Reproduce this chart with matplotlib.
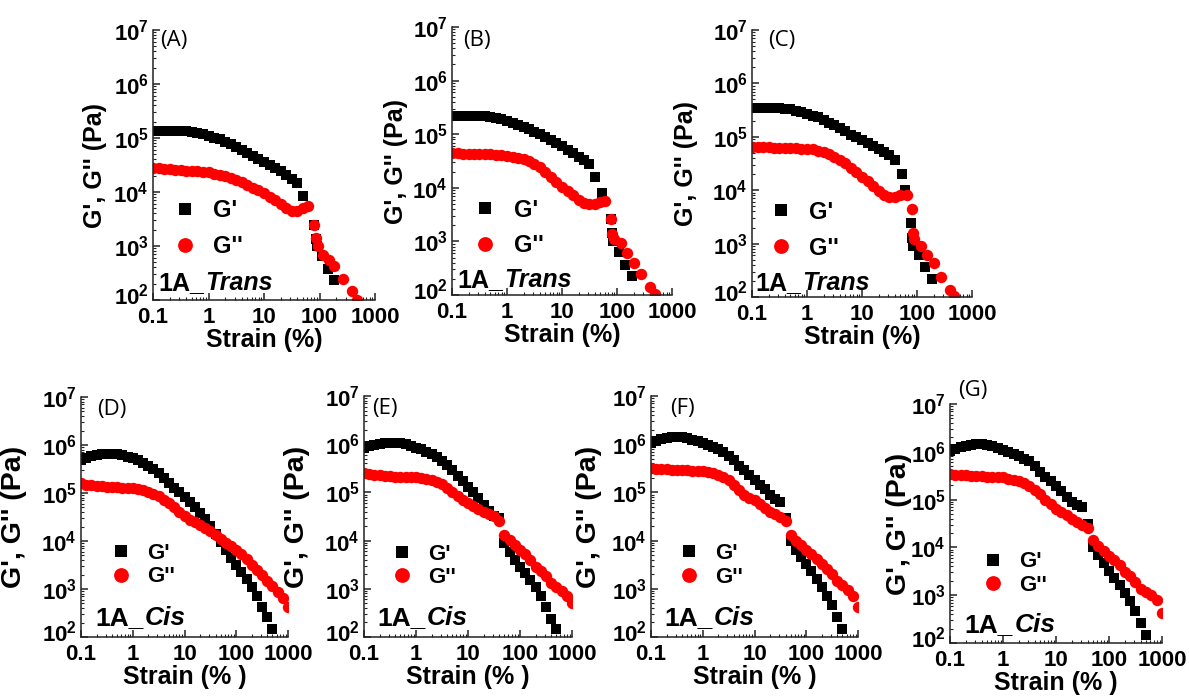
import matplotlib
matplotlib.use("Agg")
import matplotlib.pyplot as plt
from matplotlib.ticker import FixedLocator, FixedFormatter, LogLocator, NullFormatter
from matplotlib.transforms import ScaledTranslation

plt.rcParams['font.family'] = ['Liberation Sans', 'DejaVu Sans']
plt.rcParams['font.weight'] = 'bold'

# ---------------- ticks / labels ----------------
X_TICKS = [0.1, 1, 10, 100, 1000]
X_TICK_LABELS = ['0.1', '1', '10', '100', '1000']
Y_TICKS = [1e2, 1e3, 1e4, 1e5, 1e6, 1e7]
Y_TICK_LABELS = [r'$\mathregular{10^{2}}$', r'$\mathregular{10^{3}}$', r'$\mathregular{10^{4}}$',
                 r'$\mathregular{10^{5}}$', r'$\mathregular{10^{6}}$', r'$\mathregular{10^{7}}$']
PANEL_LABELS = ['(A)', '(B)', '(C)', '(D)', '(E)', '(F)', '(G)']
SAMPLE_PREFIX = '1A_'
SAMPLE_NAMES = ['Trans', 'Trans', 'Trans', 'Cis', 'Cis', 'Cis', 'Cis']
SERIES_NAMES = ["G'", "G''"]
Y_LABEL = "G', G'' (Pa)"
X_LABELS = ['Strain (%)', 'Strain (%)', 'Strain (%)', 'Strain (% )', 'Strain (% )', 'Strain (% )', 'Strain (% )']

# ---------------- data: top row (1A_Trans) ----------------
TOP_STRAIN = [0.1, 0.126, 0.158, 0.2, 0.251, 0.316, 0.398, 0.501, 0.631, 0.794, 1.0, 1.26, 1.58,
              2.0, 2.51, 3.16, 3.98, 5.01, 6.31, 7.94, 10.0, 12.6, 15.8, 20.0, 25.1, 31.6, 39.8]

A_GP = [1.35e5, 1.35e5, 1.35e5, 1.35e5, 1.35e5, 1.34e5, 1.32e5, 1.29e5, 1.26e5, 1.18e5, 1.1e5, 1.02e5, 9.4e4,
        8.6e4, 7.6e4, 6.7e4, 5.9e4, 5.2e4, 4.6e4, 4.1e4, 3.6e4, 3.2e4, 2.8e4, 2.4e4, 2.05e4, 1.75e4, 1.45e4]
A_GP_TAIL_STRAIN = [50, 79, 85, 90, 110, 145, 185]
A_GP_TAIL = [8.5e3, 2.5e3, 1.35e3, 1.0e3, 6.5e2, 3.7e2, 2.3e2]
A_GPP = [2.8e4, 2.75e4, 2.7e4, 2.65e4, 2.6e4, 2.55e4, 2.5e4, 2.45e4, 2.4e4, 2.35e4, 2.3e4, 2.2e4, 2.1e4,
         1.95e4, 1.8e4, 1.65e4, 1.5e4, 1.35e4, 1.2e4, 1.07e4, 9.5e3, 8.2e3, 7.0e3, 5.9e3, 5.0e3, 4.5e3, 4.5e3]
A_GPP_TAIL_STRAIN = [50, 63, 79, 85, 93, 115, 150, 185, 265, 380, 470]
A_GPP_TAIL = [5.0e3, 5.5e3, 2.4e3, 1.4e3, 1.0e3, 6.8e2, 5.6e2, 4.3e2, 2.5e2, 1.45e2, 1.0e2]

B_GP = [2.2e5, 2.2e5, 2.2e5, 2.2e5, 2.2e5, 2.2e5, 2.18e5, 2.1e5, 2.0e5, 1.9e5, 1.8e5, 1.65e5, 1.5e5,
        1.38e5, 1.25e5, 1.12e5, 1.0e5, 8.8e4, 7.7e4, 6.8e4, 5.9e4, 5.1e4, 4.4e4, 3.8e4, 3.3e4, 2.8e4, 1.6e4]
B_GP_TAIL_STRAIN = [53, 79, 81, 83, 110, 140, 190]
B_GP_TAIL = [8.0e3, 2.6e3, 1.45e3, 1.0e3, 6.3e2, 3.7e2, 2.3e2]
B_GPP = [4.4e4, 4.4e4, 4.35e4, 4.3e4, 4.3e4, 4.25e4, 4.2e4, 4.2e4, 4.15e4, 4.1e4, 4.0e4, 3.8e4, 3.6e4,
         3.4e4, 3.1e4, 2.8e4, 2.4e4, 2.0e4, 1.6e4, 1.3e4, 1.05e4, 8.7e3, 7.2e3, 6.0e3, 5.3e3, 4.9e3, 4.9e3]
B_GPP_TAIL_STRAIN = [50, 60, 79, 82, 90, 120, 150, 200, 270, 400, 490]
B_GPP_TAIL = [5.4e3, 5.6e3, 2.6e3, 1.4e3, 1.1e3, 9.3e2, 6.0e2, 4.0e2, 2.45e2, 1.4e2, 1.05e2]

C_GP = [3.4e5, 3.4e5, 3.4e5, 3.4e5, 3.4e5, 3.4e5, 3.37e5, 3.3e5, 3.1e5, 2.9e5, 2.7e5, 2.5e5, 2.3e5,
        2.05e5, 1.85e5, 1.65e5, 1.45e5, 1.27e5, 1.1e5, 9.8e4, 8.7e4, 7.6e4, 6.7e4, 6.0e4, 5.2e4, 4.5e4, 3.7e4]
C_GP_TAIL_STRAIN = [53, 60, 79, 81, 83, 110, 140, 190]
C_GP_TAIL = [2.05e4, 1.0e4, 2.4e3, 1.3e3, 9.0e2, 6.0e2, 3.6e2, 2.2e2]
C_GPP = [6.5e4, 6.5e4, 6.4e4, 6.4e4, 6.3e4, 6.3e4, 6.2e4, 6.2e4, 6.1e4, 6.0e4, 6.0e4, 5.8e4, 5.5e4,
         5.1e4, 4.7e4, 4.2e4, 3.7e4, 3.2e4, 2.6e4, 2.2e4, 1.8e4, 1.5e4, 1.2e4, 9.5e3, 8.3e3, 7.5e3, 7.5e3]
C_GPP_TAIL_STRAIN = [50, 65, 80, 85, 90, 120, 150, 200, 270, 400, 470]
C_GPP_TAIL = [8.0e3, 8.3e3, 4.5e3, 1.6e3, 1.2e3, 9.0e2, 6.0e2, 4.3e2, 2.4e2, 1.35e2, 1.05e2]

# ---------------- data: bottom row (1A_Cis) ----------------
BOT_STRAIN = [0.1, 0.126, 0.158, 0.2, 0.251, 0.316, 0.398, 0.501, 0.631, 0.794, 1.0, 1.26, 1.58,
              2.0, 2.51, 3.16, 3.98, 5.01, 6.31, 7.94, 10.0, 12.6, 15.8, 20.0, 25.1, 31.6, 39.8,
              50.1, 63.1, 79.4, 100, 126, 158, 200, 251, 316, 398, 501, 631, 794, 1000]

D_GP = [4.9e5, 5.4e5, 5.8e5, 6.1e5, 6.4e5, 6.5e5, 6.5e5, 6.4e5, 6.1e5, 5.7e5, 5.3e5, 4.8e5, 4.2e5,
        3.6e5, 3.1e5, 2.6e5, 2.1e5, 1.65e5, 1.3e5, 1.05e5, 8.3e4, 6.5e4, 5.1e4, 3.9e4, 2.9e4, 2.1e4, 1.4e4,
        9.5e3, 6.5e3, 4.5e3, 3.2e3, 2.3e3, 1.6e3, 1.1e3, 7.0e2, 4.2e2, 2.6e2, 1.5e2]
D_GPP = [1.6e5, 1.5e5, 1.45e5, 1.4e5, 1.38e5, 1.35e5, 1.33e5, 1.31e5, 1.29e5, 1.27e5, 1.25e5, 1.2e5, 1.13e5,
         1.05e5, 9.5e4, 8.5e4, 7.3e4, 6.2e4, 5.0e4, 4.0e4, 3.3e4, 2.8e4, 2.45e4, 2.15e4, 1.85e4, 1.6e4, 1.35e4,
         1.1e4, 9.3e3, 7.8e3, 6.5e3, 5.3e3, 4.2e3, 3.1e3, 2.5e3, 2.0e3, 1.5e3, 1.15e3, 8.8e2, 6.5e2, 4.3e2]

E_GP = [8.5e5, 9.2e5, 9.8e5, 1.03e6, 1.06e6, 1.08e6, 1.07e6, 1.05e6, 1.0e6, 9.3e5, 8.5e5, 7.8e5, 7.0e5,
        6.2e5, 5.3e5, 4.5e5, 3.7e5, 2.9e5, 2.2e5, 1.7e5, 1.3e5, 1.0e5, 7.5e4, 5.5e4, 4.2e4, 3.2e4, 3.0e4,
        9.0e3, 5.8e3, 4.0e3, 2.9e3, 2.1e3, 1.5e3, 1.1e3, 7.0e2, 4.2e2, 2.4e2, 1.5e2]
E_GPP = [2.5e5, 2.4e5, 2.3e5, 2.25e5, 2.2e5, 2.15e5, 2.1e5, 2.1e5, 2.08e5, 2.06e5, 2.05e5, 2.0e5, 1.9e5,
         1.8e5, 1.65e5, 1.5e5, 1.25e5, 1.0e5, 8.3e4, 7.0e4, 6.0e4, 5.2e4, 4.6e4, 4.0e4, 3.6e4, 3.2e4, 2.5e4,
         1.3e4, 1.05e4, 8.0e3, 6.4e3, 5.2e3, 4.0e3, 2.9e3, 2.3e3, 1.8e3, 1.35e3, 1.1e3, 9.0e2, 7.0e2, 5.0e2]

F_GP = [1.08e6, 1.18e6, 1.27e6, 1.33e6, 1.38e6, 1.4e6, 1.38e6, 1.33e6, 1.25e6, 1.17e6, 1.08e6, 9.8e5, 8.8e5,
        7.9e5, 6.8e5, 5.7e5, 4.6e5, 3.6e5, 2.9e5, 2.3e5, 1.85e5, 1.45e5, 1.15e5, 9.0e4, 7.3e4, 6.3e4, 2.9e4,
        1.0e4, 6.5e3, 4.5e3, 3.2e3, 2.3e3, 1.6e3, 1.1e3, 7.2e2, 4.6e2, 2.6e2, 1.5e2]
F_GPP = [3.2e5, 3.1e5, 3.05e5, 3.0e5, 2.95e5, 2.9e5, 2.88e5, 2.85e5, 2.83e5, 2.8e5, 2.78e5, 2.65e5, 2.5e5,
         2.3e5, 2.05e5, 1.8e5, 1.4e5, 1.1e5, 9.0e4, 7.8e4, 7.0e4, 5.8e4, 4.8e4, 4.0e4, 3.5e4, 3.1e4, 2.6e4,
         1.3e4, 1.0e4, 8.0e3, 6.4e3, 5.3e3, 4.2e3, 3.2e3, 2.6e3, 2.0e3, 1.45e3, 1.2e3, 9.5e2, 7.2e2, 4.2e2]

G_GP = [1.05e6, 1.15e6, 1.25e6, 1.33e6, 1.4e6, 1.45e6, 1.43e6, 1.38e6, 1.3e6, 1.2e6, 1.1e6, 1.0e6, 9.0e5,
        8.0e5, 7.2e5, 6.4e5, 5.0e5, 3.8e5, 3.0e5, 2.4e5, 1.95e5, 1.5e5, 1.15e5, 8.8e4, 7.6e4, 6.9e4, 3.1e4,
        1.0e4, 6.8e3, 4.7e3, 3.2e3, 2.3e3, 1.6e3, 1.1e3, 7.4e2, 4.7e2, 2.6e2, 1.5e2]
G_GPP = [3.4e5, 3.35e5, 3.3e5, 3.2e5, 3.15e5, 3.1e5, 3.05e5, 3.0e5, 2.95e5, 2.92e5, 2.9e5, 2.75e5, 2.6e5,
         2.4e5, 2.2e5, 1.95e5, 1.6e5, 1.3e5, 1.0e5, 8.0e4, 6.3e4, 5.5e4, 4.7e4, 4.0e4, 3.4e4, 3.0e4, 2.6e4,
         1.4e4, 1.05e4, 8.3e3, 6.7e3, 5.4e3, 4.3e3, 3.1e3, 2.5e3, 1.9e3, 1.35e3, 1.15e3, 1.0e3, 7.8e2, 4.2e2]

# assemble per-panel series (strain, G'), (strain, G'')
PANELS = [
    (TOP_STRAIN + A_GP_TAIL_STRAIN, A_GP + A_GP_TAIL, TOP_STRAIN + A_GPP_TAIL_STRAIN, A_GPP + A_GPP_TAIL),
    (TOP_STRAIN + B_GP_TAIL_STRAIN, B_GP + B_GP_TAIL, TOP_STRAIN + B_GPP_TAIL_STRAIN, B_GPP + B_GPP_TAIL),
    (TOP_STRAIN + C_GP_TAIL_STRAIN, C_GP + C_GP_TAIL, TOP_STRAIN + C_GPP_TAIL_STRAIN, C_GPP + C_GPP_TAIL),
    (BOT_STRAIN[:len(D_GP)], D_GP, BOT_STRAIN, D_GPP),
    (BOT_STRAIN[:len(E_GP)], E_GP, BOT_STRAIN, E_GPP),
    (BOT_STRAIN[:len(F_GP)], F_GP, BOT_STRAIN, F_GPP),
    (BOT_STRAIN[:len(G_GP)], G_GP, BOT_STRAIN, G_GPP),
]

# ---------------- layout (pixel boxes: left, top, right, bottom) ----------------
W, H = 1189, 698
AX_PX = [(153, 30, 375, 300), (452, 27, 672, 295), (752, 30, 972, 297),
         (81, 397, 288, 637), (364, 396, 572, 637), (651, 396, 858, 637), (950, 404, 1162, 643)]
LABEL_POS = [(0.03, 1.0), (0.05, 0.99), (0.073, 1.0), (0.077, 0.99), (0.04, 0.99), (0.09, 0.99), (0.04, 1.1)]
LEG_POS = [(0.11, 0.265), (0.12, 0.25), (0.10, 0.25), (0.16, 0.30), (0.15, 0.295), (0.15, 0.297), (0.17, 0.29)]
NAME_POS = [(0.023, 0.037), (0.023, 0.03), (0.014, 0.026), (0.068, 0.05), (0.062, 0.05), (0.063, 0.05), (0.07, 0.046)]
YLAB_X = [-0.207, -0.2, -0.245, -0.26, -0.26, -0.237, -0.18]

fig = plt.figure(figsize=(W / 100, H / 100), dpi=100)
lift = ScaledTranslation(0, 4 / 72, fig.dpi_scale_trans)

for i, (l, t, r, b) in enumerate(AX_PX):
    top_row = i < 3
    ax = fig.add_axes([l / W, 1 - b / H, (r - l) / W, (b - t) / H])
    sx1, gp, sx2, gpp = PANELS[i]
    ax.plot(sx1, gp, linestyle='none', marker='s', color='black', markersize=6.8,
            markeredgewidth=0, label=SERIES_NAMES[0])
    ax.plot(sx2, gpp, linestyle='none', marker='o', color='#ff0000', markersize=8.2,
            markeredgewidth=0, label=SERIES_NAMES[1])
    ax.set_xscale('log')
    ax.set_yscale('log')
    ax.set_xlim(0.1, 1000)
    ax.set_ylim(1e2, 1e7)
    ax.xaxis.set_major_locator(FixedLocator(X_TICKS))
    ax.xaxis.set_major_formatter(FixedFormatter(X_TICK_LABELS))
    ax.yaxis.set_major_locator(FixedLocator(Y_TICKS))
    ax.yaxis.set_major_formatter(FixedFormatter(Y_TICK_LABELS))
    ax.xaxis.set_minor_locator(LogLocator(base=10, subs=range(2, 10), numticks=20))
    ax.yaxis.set_minor_locator(LogLocator(base=10, subs=range(2, 10), numticks=20))
    ax.xaxis.set_minor_formatter(NullFormatter())
    ax.yaxis.set_minor_formatter(NullFormatter())
    for s in ['top', 'right']:
        ax.spines[s].set_visible(False)
    for s in ['left', 'bottom']:
        ax.spines[s].set_linewidth(1.1)
        ax.spines[s].set_color('#222222')
    ax.tick_params(which='major', direction='in', length=5, width=1.1, color='#222222')
    ax.tick_params(which='minor', direction='in', length=2.5, width=0.8, color='#222222')
    ax.tick_params(axis='x', which='major', labelsize=16, pad=5)
    ax.tick_params(axis='y', which='major', labelsize=16, pad=3)
    for lab in ax.get_xticklabels() + ax.get_yticklabels():
        lab.set_fontweight('bold')
    # lift the lowest y tick label a little, as in the reference
    first = ax.yaxis.get_major_ticks()[0].label1
    first.set_transform(first.get_transform() + lift)

    ax.set_xlabel(X_LABELS[i], fontsize=18, fontweight='bold', labelpad=0)
    ax.set_ylabel(Y_LABEL, fontsize=18 if top_row else 20.5, fontweight='bold')
    ax.yaxis.set_label_coords(YLAB_X[i], 0.5)

    ax.text(LABEL_POS[i][0], LABEL_POS[i][1], PANEL_LABELS[i], transform=ax.transAxes,
            fontsize=16, fontweight='normal', family=['Open Sans', 'DejaVu Sans'],
            ha='left', va='top')

    leg = ax.legend(loc='center left', bbox_to_anchor=LEG_POS[i], frameon=False,
                    fontsize=17 if top_row else 16, markerscale=1.3, handlelength=0.6,
                    handletextpad=0.9, labelspacing=0.55 if top_row else 0.12,
                    borderpad=0, borderaxespad=0)
    for txt in leg.get_texts():
        txt.set_fontweight('bold')

    name_fs = 18 if top_row else 19
    t1 = ax.text(NAME_POS[i][0], NAME_POS[i][1], SAMPLE_PREFIX, transform=ax.transAxes,
                 fontsize=name_fs, fontweight='bold', ha='left', va='baseline')
    ax.annotate(SAMPLE_NAMES[i], xy=(1, 0), xycoords=t1, xytext=(1, 0), textcoords='offset points',
                fontsize=name_fs, fontweight='bold', fontstyle='italic', ha='left', va='bottom')

fig.savefig('out.png', dpi=100)
